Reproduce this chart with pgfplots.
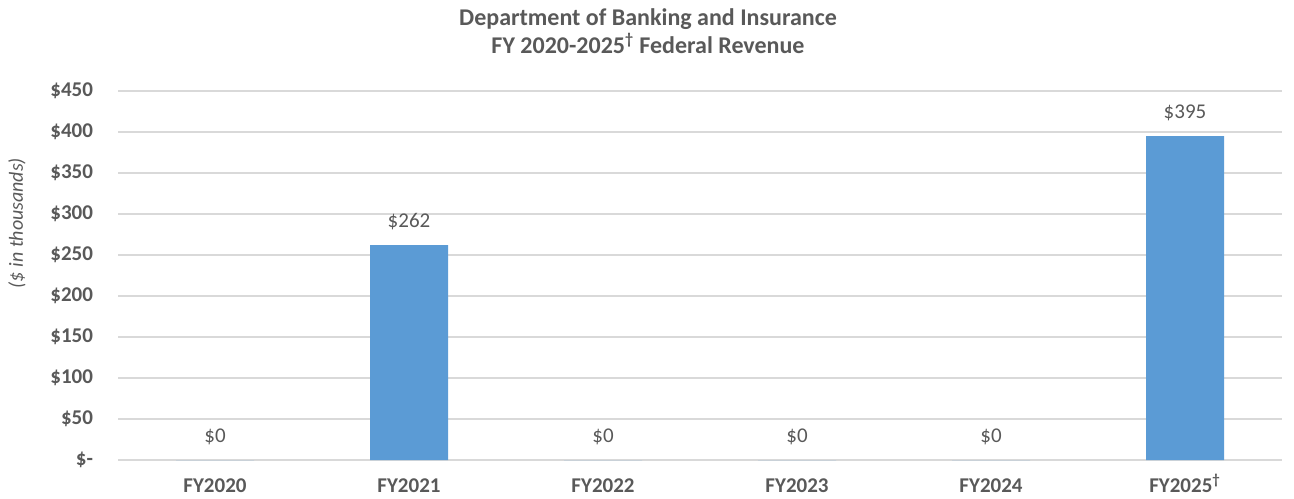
\documentclass[border=0pt]{standalone}
\usepackage{pgfplots}
\pgfplotsset{compat=1.18}
\usepackage{fontspec}
\setmainfont{Carlito}
\definecolor{barblue}{HTML}{5B9BD5}
\definecolor{txtgray}{HTML}{595959}
\definecolor{gridgray}{HTML}{D9D9D9}
\begin{document}
\begin{tikzpicture}[x=0.5pt,y=0.5pt]
\begin{axis}[
    at={(59pt,19pt)}, anchor=south west,
    scale only axis,
    width=582pt, height=184.5pt,
    ybar, bar width=39pt,
    xmin=-0.5, xmax=5.5,
    ymin=0, ymax=450,
    xtick={0,...,5},
    xticklabels={FY2020,FY2021,FY2022,FY2023,FY2024,FY2025\smash{\textsuperscript{\dag}}},
    ytick={0,50,...,450},
    yticklabels={\$-,\$50,\$100,\$150,\$200,\$250,\$300,\$350,\$400,\$450},
    ymajorgrids=true,
    grid style={gridgray, line width=0.6pt},
    axis x line*=bottom, axis y line*=left,
    x axis line style={gridgray, line width=0.6pt},
    y axis line style={draw=none},
    major tick length=0pt,
    tick style={draw=none},
    xticklabel style={font=\fontsize{10.5}{12}\selectfont\bfseries, text=txtgray, yshift=-6pt},
    yticklabel style={font=\fontsize{10.5}{12}\selectfont\bfseries, text=txtgray, xshift=-9pt},
    /pgf/number format/assume math mode=true,
    nodes near coords={\$\pgfmathprintnumber{\pgfplotspointmeta}},
    nodes near coords style={font=\fontsize{10.5}{12}\selectfont, text=txtgray, anchor=south, yshift=4pt},
    clip=false,
]
\addplot[fill=barblue, draw=none] coordinates {(0,0) (1,262) (2,0) (3,0) (4,0) (5,395)};
\end{axis}
\node[font=\fontsize{12}{13}\selectfont\bfseries, text=txtgray, align=center] at (648,467)
  {Department of Banking and Insurance\\[1pt]FY 2020-2025\textsuperscript{\dag} Federal Revenue};
\node[font=\fontsize{10}{11}\selectfont\itshape, text=txtgray, rotate=90] at (17,275) {(\$ in thousands)};
\pgfresetboundingbox
\path (0,0) rectangle (1294,498);
\end{tikzpicture}
\end{document}
